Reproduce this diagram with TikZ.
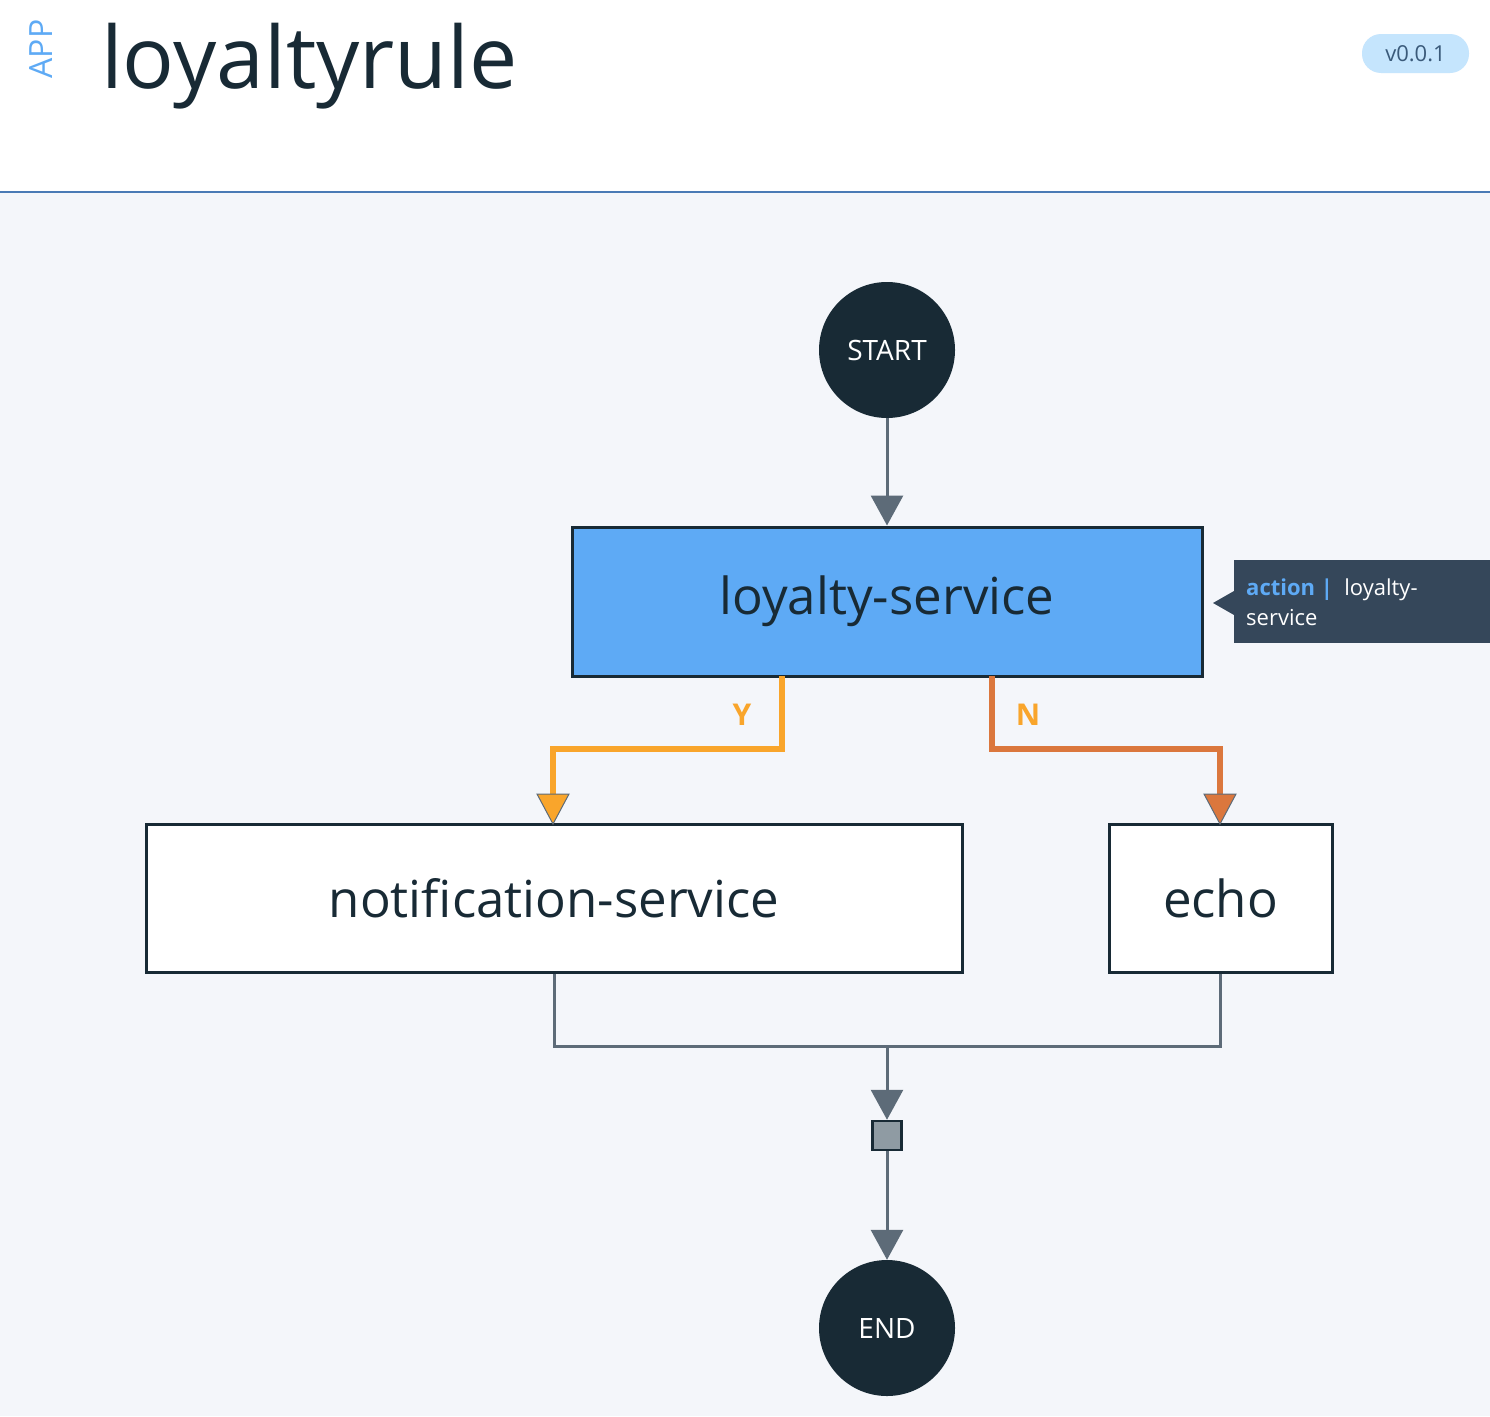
\documentclass[tikz,border=0pt]{standalone}
\usepackage{fontspec}
\setmainfont{Open Sans}
\usetikzlibrary{arrows.meta}
\definecolor{dark}{HTML}{182A35}
\definecolor{bgc}{HTML}{F4F6FA}
\definecolor{linec}{HTML}{5D6B78}
\definecolor{blueb}{HTML}{5EAAF5}
\definecolor{tipbg}{HTML}{35475A}
\definecolor{yel}{HTML}{F9A52B}
\definecolor{ora}{HTML}{DB773D}
\definecolor{hdr}{HTML}{4A7AB5}
\definecolor{pill}{HTML}{C5E5FD}
\definecolor{pilltxt}{HTML}{3A5A7A}
\definecolor{sq}{HTML}{8F9BA3}
\tikzset{
  circ/.style={circle, fill=dark, minimum size=136pt, inner sep=0pt, text=white, font=\fontsize{28}{30}\selectfont},
  box/.style={draw=dark, line width=3pt, inner sep=0pt, font=\fontsize{51}{55}\selectfont, text=dark},
  conn/.style={draw=linec, line width=3pt},
  tipgray/.style={-{Triangle[length=30pt,width=32pt,fill=linec]}},
}
\begin{document}
\begin{tikzpicture}[x=1pt,y=-1pt]
\useasboundingbox (0,0) rectangle (1490,1416);
\fill[white] (0,0) rectangle (1490,192);
\fill[bgc] (0,192) rectangle (1490,1416);
\draw[hdr, line width=2pt] (0,192) -- (1490,192);
% header
\node[rotate=90, text=blueb, font=\fontsize{32}{34}\selectfont, inner sep=0pt] (app) at (41,49) {APP};
\node[anchor=base west, text=dark, font=\fontsize{86}{92}\selectfont\addfontfeature{Weight=300}, inner sep=0pt] (title) at (101,88) {loyaltyrule};
\node[fill=pill, rounded corners=19pt, minimum width=107pt, minimum height=39pt, inner sep=0pt, text=pilltxt, font=\fontsize{22}{24}\selectfont] (ver) at (1415.5,53.5) {v0.0.1};
% nodes
\node[circ] (start) at (887,350) {START};
\node[box, fill=blueb, minimum width=630pt, minimum height=149pt] (ls) at (887,601.5) {loyalty-service};
\node[box, fill=white, minimum width=816pt, minimum height=148pt] (ns) at (554,898) {notification-service};
\node[box, fill=white, minimum width=223pt, minimum height=148pt] (echo) at (1220.5,898) {echo};
\node[draw=dark, line width=2.5pt, fill=sq, minimum size=29pt, inner sep=0pt] (sqr) at (887,1135.5) {};
\node[circ] (end) at (887,1328) {END};
% tooltip
\fill[tipbg] (1234,560) rectangle (1490,643);
\fill[tipbg] (1234,591) -- (1213,603) -- (1234,615) -- cycle;
\node[anchor=north west, inner sep=0pt, align=left, font=\fontsize{22}{30}\selectfont, text=white] (tip) at (1246,579) {{\color{blueb}\bfseries action |}\ \ loyalty-\\service};
% edges
\draw[conn, tipgray] (start) -- (ls);
\coordinate (ya) at (782,676);
\coordinate (yb) at (782,749);
\coordinate (yc) at (553,749);
\coordinate (na) at (992,676);
\coordinate (nb) at (992,749);
\coordinate (nc) at (1220,749);
\draw[yel, line width=6pt] (ya) -- (yb) -- (yc) -- (553,796);
\draw[ora, line width=6pt] (na) -- (nb) -- (nc) -- (1220,796);
\draw[linec, line width=1pt, fill=yel, line join=miter] (537,794) -- (569,794) -- (553,824) -- cycle;
\draw[linec, line width=1pt, fill=ora, line join=miter] (1204,794) -- (1236,794) -- (1220,824) -- cycle;
\node[text=yel, font=\fontsize{30}{32}\selectfont\bfseries] (ylab) at (742,715) {Y};
\node[text=yel, font=\fontsize{30}{32}\selectfont\bfseries] (nlab) at (1028,715) {N};
% merge
\coordinate (mj) at (887,1046);
\draw[conn] (ns.south) |- (mj) -| (echo.south);
\draw[conn, tipgray] (mj) -- (sqr.north);
\draw[conn, tipgray] (sqr.south) -- (end.north);
\end{tikzpicture}
\end{document}
